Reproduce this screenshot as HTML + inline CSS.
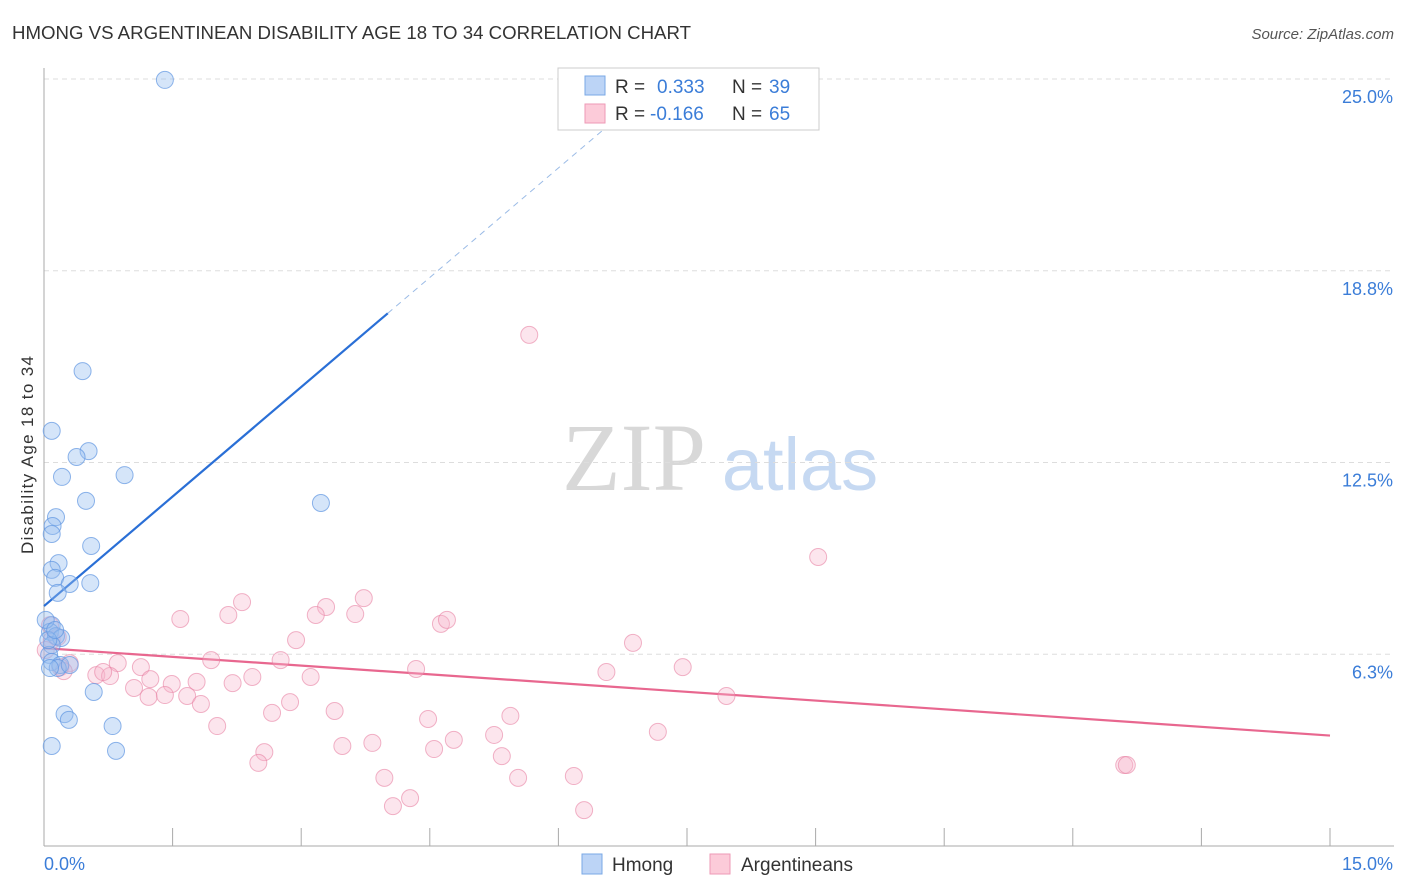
<!DOCTYPE html>
<html><head><meta charset="utf-8"><style>
body{margin:0;background:#fff;font-family:"Liberation Sans",sans-serif;}
</style></head><body>
<svg width="1406" height="892" xmlns="http://www.w3.org/2000/svg" style="display:block">
<text x="12" y="39" font-size="18" fill="#333" textLength="679" lengthAdjust="spacingAndGlyphs">HMONG VS ARGENTINEAN DISABILITY AGE 18 TO 34 CORRELATION CHART</text>
<text x="1394" y="39" font-size="15" fill="#555" font-style="italic" text-anchor="end">Source: ZipAtlas.com</text>
<g>
<text x="634" y="490" font-size="96" fill="#d8d8d8" font-family="Liberation Serif,serif" text-anchor="middle">ZIP</text>
<text x="800" y="490" font-size="74" fill="#c6d9f2" text-anchor="middle">atlas</text>
</g>
<g id="grid"></g><g id="axes"></g><g id="trends"></g><g id="pts"></g>
<text transform="translate(33,455) rotate(-90)" font-size="17" fill="#333" text-anchor="middle" textLength="198">Disability Age 18 to 34</text>
<g>
<rect x="558" y="68" width="261" height="62" fill="#fff" stroke="#ccc"/>
<rect x="585" y="76" width="20" height="19" fill="#bcd4f6" stroke="#7aa8e6"/>
<rect x="585" y="104" width="20" height="19" fill="#fccbd9" stroke="#ee9ab6"/>
<text x="615" y="93" font-size="19" fill="#333">R =</text>
<text x="657" y="93" font-size="19" fill="#3b7dd8">0.333</text>
<text x="732" y="93" font-size="19" fill="#333">N =</text>
<text x="769" y="93" font-size="19" fill="#3b7dd8">39</text>
<text x="615" y="120" font-size="19" fill="#333">R =</text>
<text x="650" y="120" font-size="19" fill="#3b7dd8">-0.166</text>
<text x="732" y="120" font-size="19" fill="#333">N =</text>
<text x="769" y="120" font-size="19" fill="#3b7dd8">65</text>
</g>
<g>
<rect x="582" y="854" width="20" height="20" fill="#bcd4f6" stroke="#7aa8e6"/>
<text x="612" y="871" font-size="19" fill="#333">Hmong</text>
<rect x="710" y="854" width="20" height="20" fill="#fccbd9" stroke="#ee9ab6"/>
<text x="741" y="871" font-size="19" fill="#333">Argentineans</text>
</g>
</svg>
<script>
const yTicks=[25.0,18.8,12.5,6.3];
const yTickVals=[25,18.75,12.5,6.25];
const xTickLabels=["0.0%","15.0%"];
const hmongX=[1.41,0.45,0.09,0.52,0.38,0.21,0.94,0.49,3.23,0.14,0.10,0.09,0.55,0.17,0.09,0.13,0.30,0.54,0.16,0.09,0.07,0.14,0.20,0.09,0.06,0.09,0.19,0.16,0.07,0.58,0.24,0.29,0.80,0.09,0.84,0.02,0.05,0.13,0.30];
const hmongY=[24.97,15.48,13.53,12.87,12.68,12.03,12.09,11.25,11.18,10.72,10.43,10.17,9.78,9.22,9.00,8.74,8.54,8.57,8.25,7.20,6.98,6.84,6.78,6.55,6.23,6.00,5.90,5.80,5.80,5.02,4.30,4.11,3.91,3.26,3.10,7.37,6.71,7.04,5.90];
const argX=[5.66,9.03,1.59,2.31,2.15,3.29,3.17,3.73,3.63,4.63,4.70,2.94,6.87,1.95,2.76,4.34,6.56,7.45,0.86,1.13,0.61,0.77,0.30,0.19,0.23,1.24,1.49,1.78,2.20,2.43,3.11,1.05,1.22,1.41,1.67,1.83,2.87,7.96,2.66,3.39,4.48,5.44,2.02,5.25,7.16,4.78,3.48,3.83,4.55,2.57,2.50,5.34,3.97,5.53,6.18,4.27,4.07,6.30,12.60,12.63,0.07,0.09,0.16,0.02,0.69];
const argY=[16.66,9.42,7.40,7.95,7.53,7.79,7.53,8.08,7.56,7.24,7.37,6.71,6.62,6.06,6.06,5.77,5.67,5.83,5.96,5.83,5.57,5.54,5.96,5.83,5.70,5.44,5.28,5.35,5.31,5.51,5.51,5.15,4.86,4.92,4.89,4.63,4.69,4.89,4.34,4.40,4.14,4.24,3.91,3.62,3.72,3.46,3.26,3.36,3.16,3.06,2.71,2.93,2.22,2.22,2.28,1.56,1.30,1.17,2.64,2.64,7.20,6.71,6.81,6.39,5.67];
const hmongTrend=[7.82,2.38];
const argTrend=[6.45,-0.19];
const X0=44,X1=1330,Y0=846,Y25=79;
const sx=v=>X0+v/15*(X1-X0);
const sy=v=>Y0-v/25*(Y0-Y25);
const NS="http://www.w3.org/2000/svg";
function mk(t,a,p){const e=document.createElementNS(NS,t);for(const k in a)e.setAttribute(k,a[k]);p.appendChild(e);return e;}
const grid=document.getElementById('grid'),axes=document.getElementById('axes'),tr=document.getElementById('trends'),pts=document.getElementById('pts');
yTickVals.forEach((v,i)=>{
 const l=mk('line',{x1:X0,x2:1394,y1:sy(v),y2:sy(v),stroke:'#ddd','stroke-dasharray':'5,4'},grid);
 
 
 const t=mk('text',{x:1393,y:sy(v)+24,'font-size':18,fill:'#3b7dd8','text-anchor':'end'},grid);
 t.textContent=yTicks[i].toFixed(1)+'%';
 
 
});
mk('line',{x1:X0,x2:X0,y1:68,y2:Y0,stroke:'#aaa'},axes);
mk('line',{x1:X0,x2:1394,y1:Y0,y2:Y0,stroke:'#aaa'},axes);
for(let i=0;i<=10;i++){const x=sx(i*1.5);const t=mk('line',{x1:x,x2:x,y1:828,y2:Y0,stroke:'#aaa'},axes);}
const xl0=mk('text',{x:44,y:870,'font-size':18,fill:'#3b7dd8'},axes);xl0.textContent=xTickLabels[0];


const xl1=mk('text',{x:1393,y:870,'font-size':18,fill:'#3b7dd8','text-anchor':'end'},axes);xl1.textContent=xTickLabels[1];


const hx1=4.01, hxEnd=(25-hmongTrend[0])/hmongTrend[1];
const hl=mk('line',{x1:sx(0),y1:sy(hmongTrend[0]),x2:sx(hx1),y2:sy(hmongTrend[0]+hmongTrend[1]*hx1),stroke:'#2a6fd6','stroke-width':2.2},tr);


const hd=mk('line',{x1:sx(hx1),y1:sy(hmongTrend[0]+hmongTrend[1]*hx1),x2:sx(hxEnd),y2:sy(25),stroke:'#9bbbe6','stroke-width':1,'stroke-dasharray':'6,5'},tr);


const al=mk('line',{x1:sx(0),y1:sy(argTrend[0]),x2:sx(15),y2:sy(argTrend[0]+argTrend[1]*15),stroke:'#e8678f','stroke-width':2.2},tr);


argX.forEach((x,i)=>{
 const c=mk('circle',{cx:sx(x),cy:sy(argY[i]),r:8.5,fill:'rgba(246,180,202,0.35)',stroke:'rgba(232,130,163,0.6)','stroke-width':1},pts);
 
 
});
hmongX.forEach((x,i)=>{
 const c=mk('circle',{cx:sx(x),cy:sy(hmongY[i]),r:8.5,fill:'rgba(150,190,240,0.4)',stroke:'rgba(95,150,225,0.7)','stroke-width':1},pts);
 
 
});
</script>
</body></html>
